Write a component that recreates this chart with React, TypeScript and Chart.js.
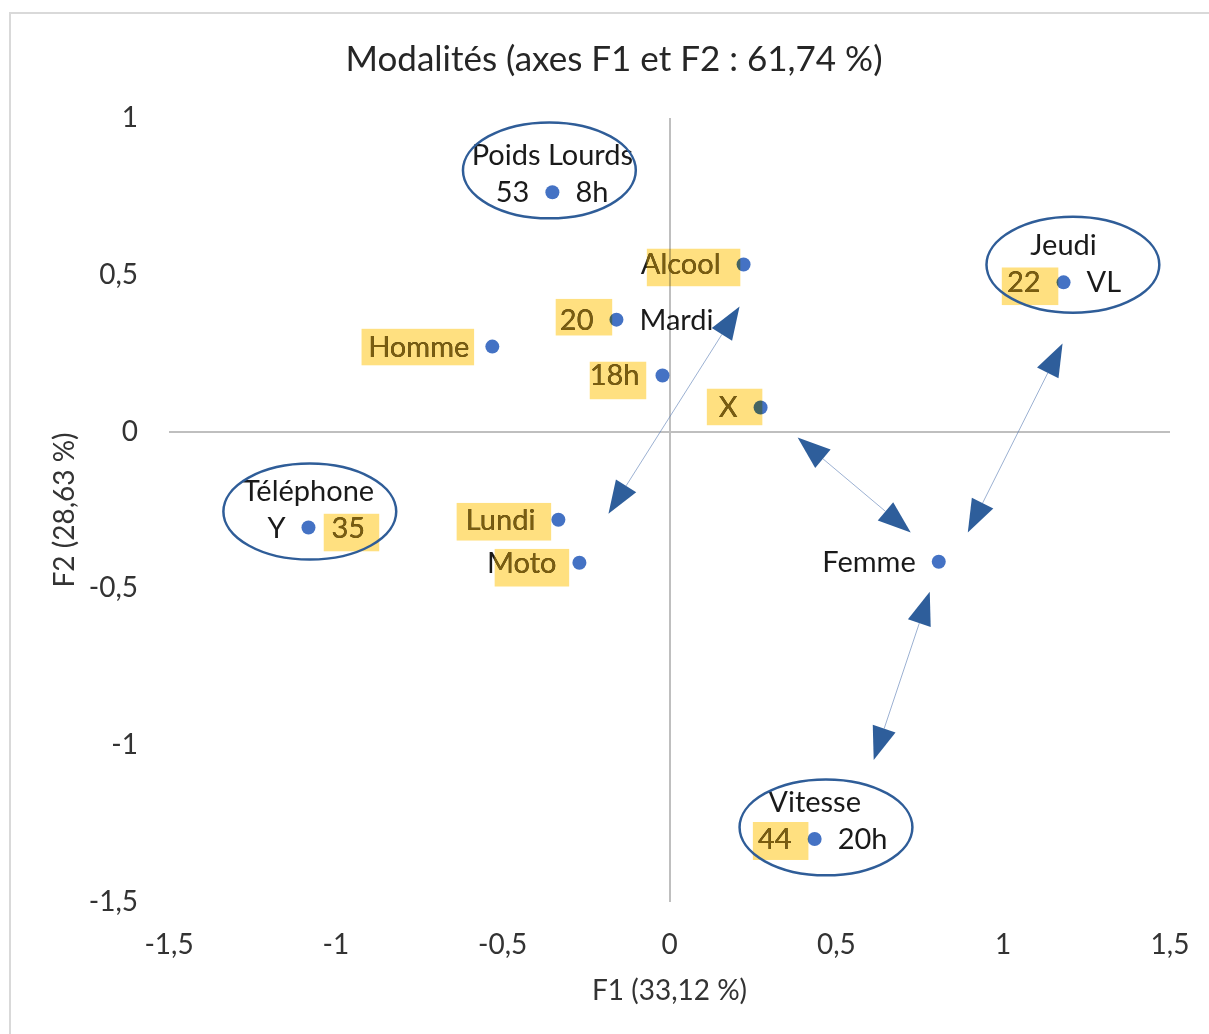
import React, { useEffect, useRef } from "react";
import { Chart, registerables } from "chart.js";

Chart.register(...registerables);

// ---------- Data ----------
const categories = [
  "Poids Lourds", "Alcool", "Mardi", "Homme", "18h", "X",
  "Jeudi", "Téléphone", "Lundi", "Moto", "Femme", "Vitesse",
];
const f1Values = [-0.351, 0.222, -0.159, -0.531, -0.021, 0.273, 1.181, -1.082, -0.333, -0.27, 0.807, 0.435];
const f2Values = [0.763, 0.533, 0.357, 0.271, 0.179, 0.077, 0.476, -0.306, -0.281, -0.418, -0.415, -1.299];

// labels shown around each point
const labelsAbove = ["Poids Lourds", "", "", "", "", "", "Jeudi", "Téléphone", "", "", "", "Vitesse"];
const labelsLeft = ["53", "Alcool", "20", "Homme", "18h", "X", "22", "Y", "Lundi", "Moto", "Femme", "44"];
const labelsRight = ["8h", "", "Mardi", "", "", "", "VL", "35", "", "", "", "20h"];

const axisTicks = [-1.5, -1, -0.5, 0, 0.5, 1, 1.5];
const chartTitle = "Modalités (axes F1 et F2 : 61,74 %)";
const xTitle = "F1 (33,12 %)";
const yTitle = "F2 (28,63 %)";

// double-headed arrows (F1, F2 coordinates of both tips)
const arrowStartF1 = [0.21, 0.384, 1.178, 0.78];
const arrowStartF2 = [0.399, -0.019, 0.281, -0.511];
const arrowEndF1 = [-0.183, 0.723, 0.894, 0.612];
const arrowEndF2 = [-0.262, -0.322, -0.322, -1.047];

// ellipses around groups (centres in F1, F2 coordinates)
const ellipseCenterF1 = [-0.36, 1.209, -1.078, 0.469];
const ellipseCenterF2 = [0.833, 0.532, -0.255, -1.262];
const ellipseRadiusF1 = 0.259;
const ellipseRadiusF2 = 0.153;

// ---------- Annotation layout (pixel offsets from the point) ----------
const highlightLayout = [
  { i: 1, x0: -97, x1: -3, y0: -16, y1: 22 },
  { i: 2, x0: -61, x1: -4, y0: -21, y1: 16 },
  { i: 3, x0: -131, x1: -18, y0: -18, y1: 19 },
  { i: 4, x0: -73, x1: -16, y0: -14, y1: 24 },
  { i: 5, x0: -54, x1: 2, y0: -19, y1: 18 },
  { i: 6, x0: -62, x1: -5, y0: -15, y1: 23 },
  { i: 7, x0: 15, x1: 71, y0: -14, y1: 24 },
  { i: 8, x0: -102, x1: -7, y0: -17, y1: 21 },
  { i: 9, x0: -85, x1: -10, y0: -14, y1: 24 },
  { i: 11, x0: -62, x1: -6, y0: -17, y1: 21 },
];

const fmt = (v: number) => String(v).replace(".", ",");

export default function App() {
  const ref = useRef<HTMLCanvasElement>(null);

  useEffect(() => {
    const canvas = ref.current;
    if (!canvas) return;

    const LABEL_FONT = "29px Lato";
    const SIDE_GAP = 23;

    const drawLabels = (ctx: CanvasRenderingContext2D, px: number[], py: number[], color: string) => {
      ctx.font = LABEL_FONT;
      ctx.fillStyle = color;
      ctx.textBaseline = "alphabetic";
      for (let i = 0; i < categories.length; i++) {
        if (labelsAbove[i]) {
          ctx.textAlign = "center";
          ctx.fillText(labelsAbove[i], px[i], py[i] - 27);
        }
        if (labelsLeft[i]) {
          ctx.textAlign = "right";
          ctx.fillText(labelsLeft[i], px[i] - SIDE_GAP, py[i] + 10);
        }
        if (labelsRight[i]) {
          ctx.textAlign = "left";
          ctx.fillText(labelsRight[i], px[i] + SIDE_GAP, py[i] + 10);
        }
      }
    };

    const overlay = {
      id: "overlay",
      afterDatasetsDraw(chart: any) {
        const ctx: CanvasRenderingContext2D = chart.ctx;
        const xs = chart.scales.x;
        const ys = chart.scales.y;
        const px = f1Values.map((v) => xs.getPixelForValue(v));
        const py = f2Values.map((v) => ys.getPixelForValue(v));

        ctx.save();
        // labels
        drawLabels(ctx, px, py, "#1a1a1a");

        // highlight boxes
        highlightLayout.forEach((h) => {
          const bx = px[h.i] + h.x0;
          const by = py[h.i] + h.y0;
          const bw = h.x1 - h.x0;
          const bh = h.y1 - h.y0;
          ctx.save();
          ctx.beginPath();
          ctx.rect(bx, by, bw, bh);
          ctx.clip();
          drawLabels(ctx, px, py, "#7a6a1e");
          ctx.globalCompositeOperation = "multiply";
          ctx.fillStyle = "#FFE080";
          ctx.fillRect(bx, by, bw, bh);
          ctx.restore();
        });

        // ellipses
        const rx = xs.getPixelForValue(ellipseRadiusF1) - xs.getPixelForValue(0);
        const ry = ys.getPixelForValue(0) - ys.getPixelForValue(ellipseRadiusF2);
        ctx.strokeStyle = "#2F5D98";
        ctx.lineWidth = 2.5;
        for (let k = 0; k < ellipseCenterF1.length; k++) {
          ctx.beginPath();
          ctx.ellipse(
            xs.getPixelForValue(ellipseCenterF1[k]),
            ys.getPixelForValue(ellipseCenterF2[k]),
            rx, ry, 0, 0, Math.PI * 2
          );
          ctx.stroke();
        }

        // arrows
        const L = 33;
        const W = 24;
        const head = (tx: number, ty: number, ux: number, uy: number) => {
          const bx = tx - ux * L;
          const by = ty - uy * L;
          ctx.beginPath();
          ctx.moveTo(tx, ty);
          ctx.lineTo(bx - uy * W / 2, by + ux * W / 2);
          ctx.lineTo(bx + uy * W / 2, by - ux * W / 2);
          ctx.closePath();
          ctx.fill();
        };
        for (let k = 0; k < arrowStartF1.length; k++) {
          const x1 = xs.getPixelForValue(arrowStartF1[k]);
          const y1 = ys.getPixelForValue(arrowStartF2[k]);
          const x2 = xs.getPixelForValue(arrowEndF1[k]);
          const y2 = ys.getPixelForValue(arrowEndF2[k]);
          const d = Math.hypot(x2 - x1, y2 - y1);
          const ux = (x2 - x1) / d;
          const uy = (y2 - y1) / d;
          ctx.strokeStyle = "rgba(90,125,180,0.6)";
          ctx.lineWidth = 1;
          ctx.beginPath();
          ctx.moveTo(x1 + ux * L, y1 + uy * L);
          ctx.lineTo(x2 - ux * L, y2 - uy * L);
          ctx.stroke();
          ctx.fillStyle = "#2E5E9B";
          head(x2, y2, ux, uy);
          head(x1, y1, -ux, -uy);
        }
        ctx.restore();
      },
      afterDraw(chart: any) {
        const ctx: CanvasRenderingContext2D = chart.ctx;
        ctx.save();
        ctx.font = "35px Lato";
        ctx.fillStyle = "#262626";
        ctx.textAlign = "center";
        ctx.textBaseline = "middle";
        ctx.fillText(chartTitle, 614, 60);
        ctx.restore();
      },
    };

    const zeroGrid = (c: any) => (c.tick && c.tick.value === 0 ? "#BFBFBF" : "rgba(0,0,0,0)");

    const chart = new Chart(canvas, {
      type: "scatter",
      data: {
        datasets: [
          {
            label: "Modalités",
            data: categories.map((_, i) => ({ x: f1Values[i], y: f2Values[i] })),
            backgroundColor: "#4472C4",
            borderWidth: 0,
            pointRadius: 7,
            pointHoverRadius: 7,
          },
        ],
      },
      options: {
        animation: false,
        responsive: false,
        events: [],
        layout: { padding: { top: 118, left: 0, right: 39, bottom: 0 } },
        plugins: {
          legend: { display: false },
          tooltip: { enabled: false },
          title: { display: false },
        },
        scales: {
          x: {
            type: "linear",
            min: -1.5,
            max: 1.5,
            afterBuildTicks: (s: any) => {
              s.ticks = axisTicks.map((v) => ({ value: v }));
            },
            afterFit: (s: any) => {
              s.height = 132;
              s.paddingLeft = 0;
              s.paddingRight = 0;
            },
            ticks: {
              callback: (v: any) => fmt(Number(v)),
              font: { family: "Lato", size: 28 },
              color: "#333333",
              padding: 26,
              maxRotation: 0,
              autoSkip: false,
            },
            grid: { color: zeroGrid, lineWidth: 2, drawTicks: false },
            border: { display: false },
            title: {
              display: true,
              text: xTitle,
              font: { family: "Lato", size: 28 },
              color: "#333333",
              padding: { top: 0, bottom: 26 },
            },
          },
          y: {
            type: "linear",
            min: -1.5,
            max: 1,
            afterBuildTicks: (s: any) => {
              s.ticks = axisTicks.filter((v) => v <= 1).map((v) => ({ value: v }));
            },
            afterFit: (s: any) => {
              s.width = 169;
              s.paddingTop = 0;
              s.paddingBottom = 0;
            },
            ticks: {
              callback: (v: any) => fmt(Number(v)),
              font: { family: "Lato", size: 28 },
              color: "#333333",
              padding: 31,
              autoSkip: false,
            },
            grid: { color: zeroGrid, lineWidth: 2, drawTicks: false },
            border: { display: false },
            title: {
              display: true,
              text: yTitle,
              font: { family: "Lato", size: 28 },
              color: "#333333",
              padding: { top: 48, bottom: 48 },
            },
          },
        },
      },
      plugins: [overlay],
    } as any);

    return () => chart.destroy();
  }, []);

  return (
    <div
      style={{
        position: "fixed",
        left: 0,
        top: 0,
        width: 1209,
        height: 1034,
        background: "#ffffff",
        overflow: "hidden",
      }}
    >
      <div
        style={{
          position: "absolute",
          left: 9,
          top: 12,
          width: 1300,
          height: 1100,
          borderLeft: "2px solid #d9d9d9",
          borderTop: "2px solid #d9d9d9",
        }}
      />
      <canvas
        ref={ref}
        width={1209}
        height={1034}
        style={{ position: "absolute", left: 0, top: 0, width: 1209, height: 1034 }}
      />
    </div>
  );
}
